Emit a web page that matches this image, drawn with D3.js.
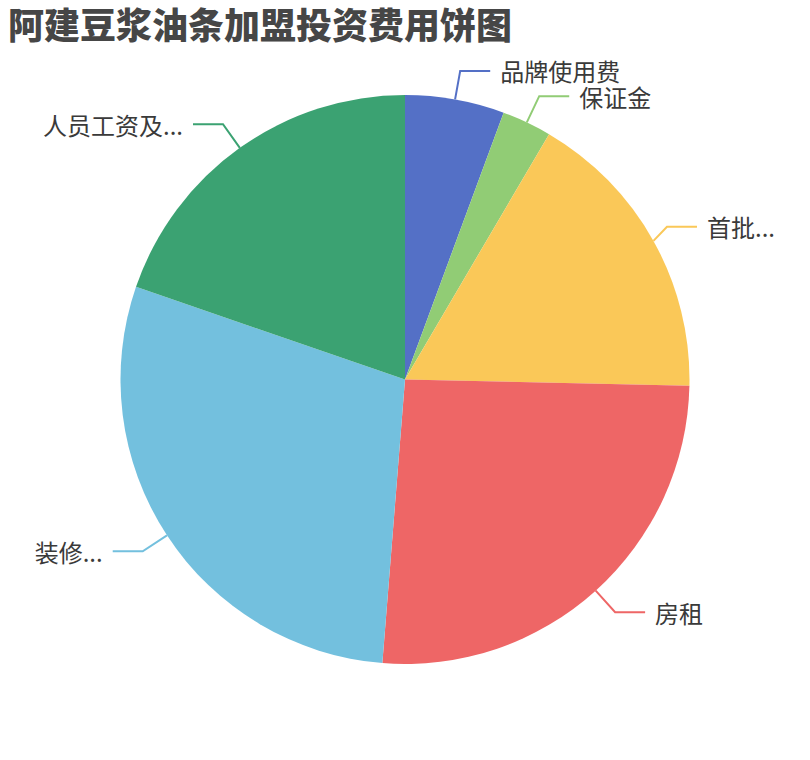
<!DOCTYPE html>
<html>
<head>
<meta charset="utf-8">
<script src="https://cdn.jsdelivr.net/npm/d3@7/dist/d3.min.js"></script>
<style>
  html, body { margin: 0; padding: 0; background: #fff; }
  body { font-family: "Noto Sans CJK SC", "Noto Sans", sans-serif; }
</style>
</head>
<body>
<svg id="chart"></svg>
<script>
// 数据
let names = ['品牌使用费', '保证金', '首批...', '房租', '装修...', '人员工资及...'];
let values = [20000, 10000, 60000, 92000, 103000, 70000];
let colors = ['#5470c6', '#91cc75', '#fac858', '#ee6666', '#73c0de', '#3ba272'];
let title = '阿建豆浆油条加盟投资费用饼图';

let width = 810;
let height = 760;

function main() {
    let svg = d3.select('#chart')
        .attr('width', width)
        .attr('height', height);

    // 标题
    svg.append('text')
        .attr('x', 8)
        .attr('y', 39)
        .style('font-size', '36px')
        .style('font-weight', 900)
        .style('fill', '#464646')
        .text(title);

    let cx = 405, cy = 379.5, r = 284.5;
    let len1 = 29, len2 = 30, gap = 10;
    let rightLimit = width - 35;   // 右侧标签不超过这里

    let data = names.map((n, i) => ({name: n, value: values[i], color: colors[i]}));
    let pie = d3.pie().sort(null).value(d => d.value);
    let arc = d3.arc().innerRadius(0).outerRadius(r);
    let arcs = pie(data);

    let g = svg.append('g')
        .attr('transform', `translate(${cx}, ${cy})`);

    g.selectAll('path.slice')
        .data(arcs)
        .enter()
        .append('path')
        .attr('class', 'slice')
        .attr('d', arc)
        .attr('fill', d => d.data.color);

    // 引导线和标签
    let labels = g.selectAll('g.label')
        .data(arcs)
        .enter()
        .append('g')
        .attr('class', 'label');

    labels.each(function(d) {
        let a = (d.startAngle + d.endAngle) / 2;
        let sx = Math.sin(a), sy = -Math.cos(a);
        let right = sx >= 0;
        let sel = d3.select(this);
        let text = sel.append('text')
            .attr('text-anchor', right ? 'start' : 'end')
            .attr('dominant-baseline', 'central')
            .style('font-size', '24px')
            .style('fill', '#3a3a3a')
            .text(d.data.name);
        let tw = text.node().getComputedTextLength();

        let p0 = [r * sx, r * sy];
        let p1 = [(r + len1) * sx, (r + len1) * sy];
        let p2 = [p1[0] + (right ? len2 : -len2), p1[1]];
        // 超出右边时整体左移
        if (right) {
            let over = cx + p2[0] + gap + tw - rightLimit;
            if (over > 0) { p1[0] -= over; p2[0] -= over; }
        }
        sel.insert('path', 'text')
            .attr('d', d3.line()([p0, p1, p2]))
            .attr('fill', 'none')
            .attr('stroke', d.data.color)
            .attr('stroke-width', 2);
        text.attr('x', p2[0] + (right ? gap : -gap))
            .attr('y', p2[1]);
    });
}
main();
</script>
</body>
</html>
